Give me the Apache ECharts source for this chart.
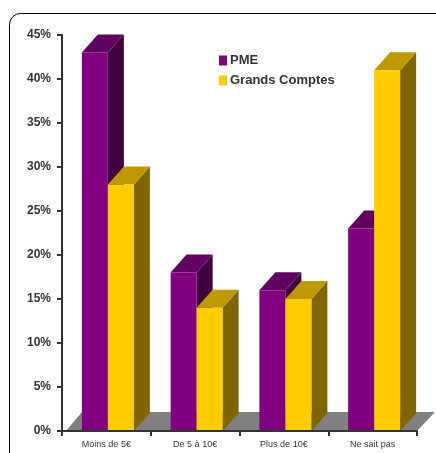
<!DOCTYPE html>
<html>
<head>
<meta charset="utf-8">
<title>PME / Grands Comptes</title>
<style>
html,body{margin:0;padding:0;background:#fff;}
#echarts{width:436px;height:453px;}
</style>
<script src="https://cdn.jsdelivr.net/npm/echarts@6/dist/echarts.min.js"></script>
</head>
<body>
<div id="echarts"></div>
<script>
"use strict";
// values
var categories = ['Moins de 5€', 'De 5 à 10€', 'Plus de 10€', 'Ne sait pas'];
var pme = [43, 18, 16, 23];
var grandsComptes = [28, 14, 15, 41];

var depthX = 16, depthY = 18, barW = 26, shiftX = 1.5;

// one 3D bar: front, top and side faces
function bar3d(colors, slot) {
    return function (params, api) {
        var p = api.coord([api.value(0), api.value(1)]);
        var base = api.coord([api.value(0), 0]);
        var x = p[0] + shiftX + slot * barW, y = p[1], x2 = x + barW, y0 = base[1];
        return {
            type: 'group',
            children: [
                {type: 'polygon', shape: {points: [[x2, y], [x2 + depthX, y - depthY], [x2 + depthX, y0 - depthY], [x2, y0]]}, style: {fill: colors.side}},
                {type: 'polygon', shape: {points: [[x, y], [x + depthX, y - depthY], [x2 + depthX, y - depthY], [x2, y]]}, style: {fill: colors.top}},
                {type: 'rect', shape: {x: x, y: y, width: barW, height: y0 - y}, style: {fill: colors.front}}
            ]
        };
    };
}

// grey floor of the chart
function floor(params, api) {
    var c = params.coordSys;
    var y0 = c.y + c.height, x0 = c.x + 4, x1 = c.x + c.width;
    return {
        type: 'polygon',
        shape: {points: [[x0, y0], [x0 + depthX, y0 - depthY - 1], [x1 + depthX + 2, y0 - depthY - 1], [x1, y0]]},
        style: {fill: '#808080'}
    };
}

function rows(values) {
    return values.map(function (v, i) { return [i, v]; });
}

var myChart = echarts.init(document.getElementById('echarts'));
var option = {
    animation: false,
    backgroundColor: '#fff',
    textStyle: {fontFamily: '"Liberation Sans", Arial, sans-serif'},
    graphic: [{
        type: 'rect',
        z: -1,
        shape: {x: 9.5, y: 13.5, width: 470, height: 480, r: 11},
        style: {fill: 'none', stroke: '#000', lineWidth: 1}
    }],
    grid: {left: 62, right: 19, top: 35, bottom: 22},
    legend: {
        orient: 'vertical',
        left: 214,
        top: 49,
        itemWidth: 8,
        itemHeight: 10,
        itemGap: 7,
        icon: 'rect',
        data: ['PME', 'Grands Comptes'],
        textStyle: {color: '#333', fontSize: 13, fontWeight: 'bold', padding: [0, 0, 0, -2]}
    },
    xAxis: {
        type: 'category',
        data: categories,
        z: 10,
        axisLine: {lineStyle: {color: '#333', width: 2}},
        axisTick: {show: true, alignWithLabel: false, length: 5, lineStyle: {color: '#333', width: 2}},
        axisLabel: {color: '#333', fontSize: 9, margin: 9}
    },
    yAxis: {
        type: 'value',
        min: 0,
        max: 45,
        interval: 5,
        z: 10,
        splitLine: {show: false},
        axisLine: {show: true, lineStyle: {color: '#333', width: 2}},
        axisTick: {show: true, length: 5, lineStyle: {color: '#333', width: 2}},
        axisLabel: {color: '#333', fontSize: 12, fontWeight: 'bold', margin: 11, formatter: '{value}%'}
    },
    series: [
        {
            name: 'floor',
            type: 'custom',
            z: 1,
            silent: true,
            renderItem: floor,
            data: [[0, 0]],
            encode: {x: 0, y: 1}
        },
        {
            name: 'PME',
            type: 'custom',
            z: 2,
            itemStyle: {color: '#800080'},
            renderItem: bar3d({front: '#800080', top: '#600060', side: '#400040'}, -1),
            data: rows(pme),
            encode: {x: 0, y: 1}
        },
        {
            name: 'Grands Comptes',
            type: 'custom',
            z: 3,
            itemStyle: {color: '#FFCC00'},
            renderItem: bar3d({front: '#FFCC00', top: '#BF9900', side: '#806600'}, 0),
            data: rows(grandsComptes),
            encode: {x: 0, y: 1}
        }
    ]
};
myChart.setOption(option, true);
</script>
</body>
</html>
